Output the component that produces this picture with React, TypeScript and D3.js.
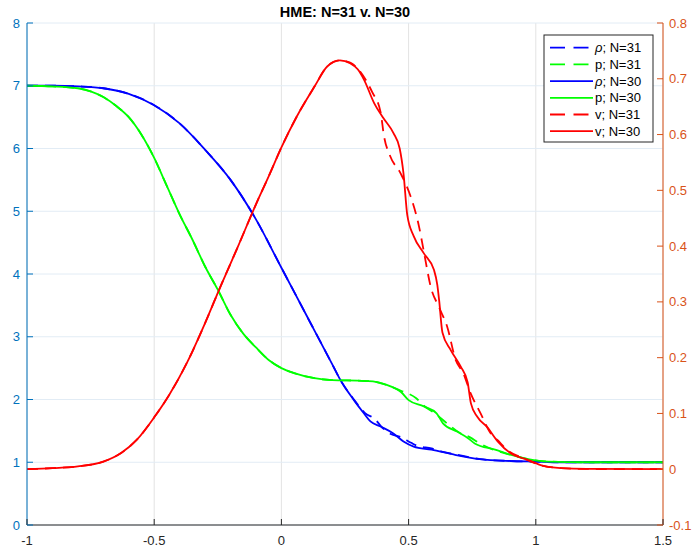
import React from "react";
import * as d3 from "d3";

const W = 695, H = 554;
const M = { left: 27, right: 663, top: 23, bottom: 525 };

const xTicks = [-1, -0.5, 0, 0.5, 1, 1.5];
const xTickLabels = ["-1", "-0.5", "0", "0.5", "1", "1.5"];
const yLeftTicks = [0, 1, 2, 3, 4, 5, 6, 7, 8];
const yRightTicks = [-0.1, 0, 0.1, 0.2, 0.3, 0.4, 0.5, 0.6, 0.7, 0.8];
const yRightLabels = ["-0.1", "0", "0.1", "0.2", "0.3", "0.4", "0.5", "0.6", "0.7", "0.8"];

// rho, N=30
const rho30X = [-1, -0.9, -0.8, -0.7, -0.6, -0.5, -0.4, -0.3, -0.2, -0.1, 0, 0.1, 0.2, 0.232, 0.285, 0.324, 0.35, 0.39, 0.44, 0.48, 0.52, 0.59, 0.68, 0.78, 0.9, 1.0, 1.1, 1.5];
const rho30Y = [7.0, 7.0, 6.99, 6.96, 6.87, 6.69, 6.40, 5.98, 5.50, 4.87, 4.10, 3.33, 2.56, 2.31, 1.99, 1.78, 1.65, 1.57, 1.46, 1.33, 1.25, 1.20, 1.12, 1.05, 1.02, 1.01, 1.0, 1.0];
// rho, N=31
const rho31X = [-1, -0.9, -0.8, -0.7, -0.6, -0.5, -0.4, -0.3, -0.2, -0.1, 0, 0.1, 0.2, 0.232, 0.285, 0.33, 0.37, 0.39, 0.43, 0.47, 0.51, 0.535, 0.59, 0.63, 0.68, 0.78, 0.9, 1.0, 1.1, 1.5];
const rho31Y = [7.0, 7.0, 6.99, 6.96, 6.87, 6.69, 6.40, 5.98, 5.50, 4.87, 4.10, 3.33, 2.56, 2.31, 2.0, 1.78, 1.68, 1.58, 1.45, 1.40, 1.31, 1.26, 1.22, 1.17, 1.13, 1.05, 1.02, 1.01, 1.0, 1.0];
// p, N=30
const p30X = [-1, -0.9, -0.8, -0.75, -0.7, -0.65, -0.6, -0.55, -0.5, -0.45, -0.4, -0.35, -0.3, -0.25, -0.2, -0.15, -0.1, -0.05, 0, 0.05, 0.13, 0.2, 0.3, 0.36, 0.39, 0.45, 0.47, 0.5, 0.56, 0.61, 0.635, 0.69, 0.735, 0.76, 0.84, 0.9, 0.97, 1.05, 1.2, 1.5];
const p30Y = [7.0, 6.99, 6.96, 6.91, 6.82, 6.68, 6.50, 6.22, 5.85, 5.40, 4.95, 4.55, 4.12, 3.75, 3.35, 3.05, 2.83, 2.63, 2.50, 2.42, 2.34, 2.31, 2.30, 2.29, 2.26, 2.17, 2.12, 1.99, 1.89, 1.78, 1.62, 1.49, 1.38, 1.30, 1.20, 1.12, 1.05, 1.01, 1.0, 1.0];
// p, N=31
const p31X = [-1, -0.9, -0.8, -0.75, -0.7, -0.65, -0.6, -0.55, -0.5, -0.45, -0.4, -0.35, -0.3, -0.25, -0.2, -0.15, -0.1, -0.05, 0, 0.05, 0.13, 0.2, 0.3, 0.36, 0.39, 0.44, 0.47, 0.53, 0.56, 0.6, 0.66, 0.7, 0.74, 0.78, 0.84, 0.9, 0.97, 1.05, 1.2, 1.5];
const p31Y = [7.0, 6.99, 6.96, 6.91, 6.82, 6.68, 6.50, 6.22, 5.85, 5.40, 4.95, 4.55, 4.12, 3.75, 3.35, 3.05, 2.83, 2.63, 2.50, 2.42, 2.34, 2.31, 2.30, 2.29, 2.26, 2.19, 2.14, 2.02, 1.90, 1.79, 1.59, 1.47, 1.40, 1.30, 1.19, 1.12, 1.05, 1.01, 1.0, 1.0];
// v, N=30 (right axis)
const v30X = [-1, -0.9, -0.8, -0.7, -0.63, -0.57, -0.5, -0.44, -0.37, -0.3, -0.24, -0.17, -0.1, -0.05, 0, 0.06, 0.13, 0.18, 0.23, 0.27, 0.3, 0.325, 0.365, 0.4, 0.44, 0.465, 0.48, 0.495, 0.52, 0.56, 0.6, 0.613, 0.62, 0.633, 0.665, 0.705, 0.732, 0.745, 0.77, 0.81, 0.85, 0.9, 0.97, 1.03, 1.1, 1.2, 1.5];
const v30Y = [0, 0.002, 0.005, 0.0135, 0.029, 0.052, 0.093, 0.134, 0.192, 0.262, 0.327, 0.40, 0.475, 0.525, 0.577, 0.632, 0.686, 0.722, 0.733, 0.728, 0.717, 0.698, 0.656, 0.630, 0.603, 0.575, 0.53, 0.455, 0.418, 0.387, 0.357, 0.33, 0.303, 0.245, 0.214, 0.184, 0.156, 0.118, 0.094, 0.075, 0.05, 0.029, 0.0165, 0.006, 0.002, 0.0005, 0];
// v, N=31 (right axis)
const v31X = [-1, -0.9, -0.8, -0.7, -0.63, -0.57, -0.5, -0.44, -0.37, -0.3, -0.24, -0.17, -0.1, -0.05, 0, 0.06, 0.13, 0.18, 0.23, 0.27, 0.311, 0.357, 0.39, 0.403, 0.427, 0.469, 0.508, 0.541, 0.56, 0.587, 0.62, 0.652, 0.685, 0.715, 0.744, 0.783, 0.823, 0.85, 0.889, 0.95, 1.03, 1.1, 1.2, 1.5];
const v31Y = [0, 0.002, 0.005, 0.0135, 0.029, 0.052, 0.093, 0.134, 0.192, 0.262, 0.327, 0.40, 0.475, 0.525, 0.577, 0.632, 0.686, 0.722, 0.733, 0.729, 0.712, 0.676, 0.640, 0.598, 0.562, 0.530, 0.489, 0.435, 0.39, 0.327, 0.29, 0.255, 0.196, 0.172, 0.136, 0.10, 0.064, 0.052, 0.034, 0.02, 0.006, 0.002, 0.0005, 0];

const legendLabels = ["ρ; N=31", "p; N=31", "ρ; N=30", "p; N=30", "v; N=31", "v; N=30"];

const FONT = "'Liberation Sans', Arial, Helvetica, sans-serif";
const BLUE_AX = "#0072BD";
const ORANGE_AX = "#D95319";
const DASH = "11,7";

export default function App() {
  const x = d3.scaleLinear().domain([-1, 1.5]).range([M.left, M.right]);
  const yL = d3.scaleLinear().domain([0, 8]).range([M.bottom, M.top]);
  const yR = d3.scaleLinear().domain([-0.1, 0.8]).range([M.bottom, M.top]);

  const mk = (xs: number[], ys: number[], ys2: d3.ScaleLinear<number, number>) =>
    d3.line<number>().x((_, i) => x(xs[i])).y((d) => ys2(d)).curve(d3.curveMonotoneX)(ys) || "";

  const series = [
    { d: mk(rho31X, rho31Y, yL), color: "#0000ff", dash: DASH },
    { d: mk(p31X, p31Y, yL), color: "#00ff00", dash: DASH },
    { d: mk(rho30X, rho30Y, yL), color: "#0000ff", dash: null },
    { d: mk(p30X, p30Y, yL), color: "#00ff00", dash: null },
    { d: mk(v31X, v31Y, yR), color: "#ff0000", dash: DASH },
    { d: mk(v30X, v30Y, yR), color: "#ff0000", dash: null },
  ];

  const lg = { x: 544, y: 35, w: 109, h: 107 };
  const rowH = 16.7;

  return (
    <svg width={W} height={H} style={{ position: "absolute", left: 0, top: 0, background: "#fff" }} fontFamily={FONT}>
      <rect x={0} y={0} width={W} height={H} fill="#fff" />
      {xTicks.map((t) => (
        <line key={"gx" + t} x1={x(t)} x2={x(t)} y1={M.top} y2={M.bottom} stroke="#e3e3e3" strokeWidth={1} />
      ))}
      {yLeftTicks.map((t) => (
        <line key={"gy" + t} x1={M.left} x2={M.right} y1={yL(t)} y2={yL(t)} stroke="#e2ecf5" strokeWidth={1} />
      ))}
      {series.map((s, i) => (
        <path key={i} d={s.d} fill="none" stroke={s.color} strokeWidth={1.8} strokeDasharray={s.dash || undefined} />
      ))}
      <line x1={M.left} x2={M.right} y1={M.bottom} y2={M.bottom} stroke="#262626" strokeWidth={1} />
      <line x1={M.left} x2={M.left} y1={M.top} y2={M.bottom} stroke={BLUE_AX} strokeWidth={1} />
      <line x1={M.right} x2={M.right} y1={M.top} y2={M.bottom} stroke={ORANGE_AX} strokeWidth={1} />
      {xTicks.map((t, i) => (
        <g key={"xt" + t}>
          <line x1={x(t)} x2={x(t)} y1={M.bottom} y2={M.bottom - 6} stroke="#262626" />
          <text x={x(t)} y={M.bottom + 20} textAnchor="middle" fontSize={13} fill="#262626">{xTickLabels[i]}</text>
        </g>
      ))}
      {yLeftTicks.map((t) => (
        <g key={"yl" + t}>
          <line x1={M.left} x2={M.left + 6} y1={yL(t)} y2={yL(t)} stroke={BLUE_AX} />
          <text x={M.left - 7} y={yL(t) + 4.5} textAnchor="end" fontSize={13} fill={BLUE_AX}>{t}</text>
        </g>
      ))}
      {yRightTicks.map((t, i) => (
        <g key={"yr" + i}>
          <line x1={M.right} x2={M.right - 6} y1={yR(t)} y2={yR(t)} stroke={ORANGE_AX} />
          <text x={M.right + 6} y={yR(t) + 4.5} textAnchor="start" fontSize={13} fill={ORANGE_AX}>{yRightLabels[i]}</text>
        </g>
      ))}
      <text x={(M.left + M.right) / 2} y={17} textAnchor="middle" fontSize={14.5} fontWeight="bold" fill="#000">HME: N=31 v. N=30</text>
      <rect x={lg.x} y={lg.y} width={lg.w} height={lg.h} fill="#fff" stroke="#262626" strokeWidth={1} />
      {series.map((s, i) => {
        const cy = lg.y + 12.7 + i * rowH;
        const lab = legendLabels[i];
        const isRho = lab.startsWith("ρ");
        return (
          <g key={"lg" + i}>
            <line x1={lg.x + 6} x2={lg.x + 49} y1={cy} y2={cy} stroke={s.color} strokeWidth={1.8} strokeDasharray={s.dash ? "15,8.5" : undefined} />
            <text x={lg.x + 51} y={cy + 4.5} fontSize={13} fill="#000">
              {isRho ? (
                <>
                  <tspan fontStyle="italic">ρ</tspan>
                  <tspan>{lab.slice(1)}</tspan>
                </>
              ) : (
                lab
              )}
            </text>
          </g>
        );
      })}
    </svg>
  );
}
